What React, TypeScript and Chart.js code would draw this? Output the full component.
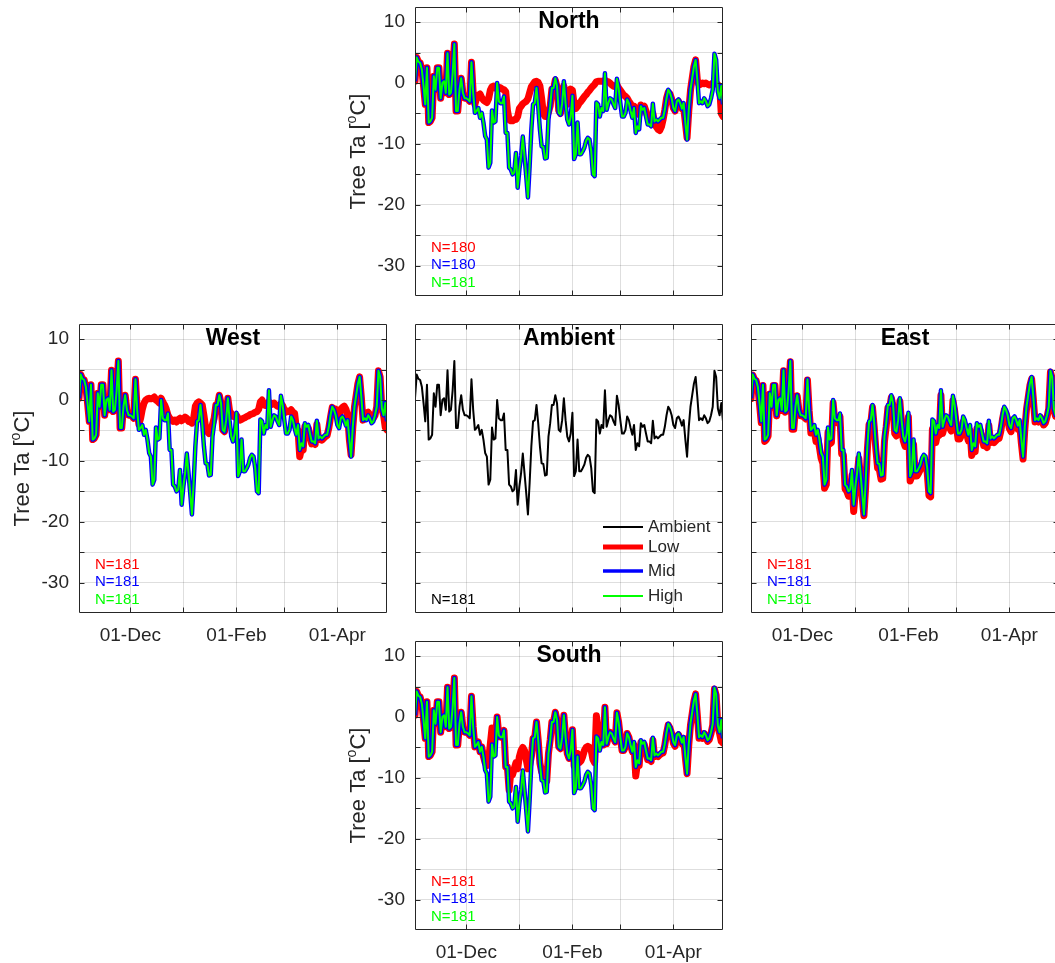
import React, { useEffect, useRef } from "react";
import { Chart, registerables } from "chart.js";

Chart.register(...registerables);

// Daily air temperature inside the tree canopies, 01-Nov to 30-Apr (day 0 = 01-Nov)
const dayIndex: number[] = Array.from({ length: 181 }, (_, i) => i);

const monthStarts = [30, 61, 92, 120, 151];
const monthLabels = ["01-Dec", "", "01-Feb", "", "01-Apr"];
const yTickValues = [-30, -25, -20, -15, -10, -5, 0, 5, 10];

const ambient = [
  0.3, 4.2, 3.5, 3.3, 2.2, -0.5, -3.5, 2.5, -6.5, -6.3,
  -5.7, 1.1, -1.1, 2.5, 2.5, -2.5, 0, 0.3, -1.6, 4.9,
  -1.9, -1.6, 1.6, 6.4, -4.6, -4.6, -1.1, 0.8, -1.6, -2.5,
  -2.5, -2.7, -3, 3.4, -1.6, -4.9, -4.6, -4.1, -5.7, -4.9,
  -6.5, -8.7, -9.3, -13.9, -13.1, -4.5, -6.5, -6.3, 0, -3,
  -3.3, -3.3, -2.2, -8.2, -8.2, -13.9, -14.2, -15, -14.7, -11.5,
  -17.2, -14.2, -12, -8.8, -12, -15.3, -18.8, -13.6, -7.6, -3.5,
  -3.3, -0.8, -3.8, -7.6, -10.4, -10.5, -12.4, -12.3, -6, -3.8,
  -0.8, -0.8, 0.8, -0.5, -4.9, -5.2, -3.3, 0.3, -3.3, -6,
  -6.8, -5.5, -2.1, -12.5, -11.7, -6.5, -11.7, -11.7, -11.2, -10.6,
  -9.5, -9.0, -9.3, -11.2, -15, -15.3, -3.2, -3.5, -5.5, -4.1,
  -4.6, 1.6, -4.4, -3.3, -2.5, -2.7, -3.5, -4.1, 0.7, -0.8,
  -3.3, -5.5, -5.5, -4.9, -2.7, -3.3, -4.6, -5.7, -4.1, -8.2,
  -7.1, -7.6, -3.8, -4.4, -4.1, -5.5, -6.8, -6.8, -7.1, -3.4,
  -6.3, -6.0, -6.3, -6.0, -5.7, -5.7, -4.4, -2.5, -1.1, -1.6,
  -2.5, -4.1, -4.6, -3, -2.7, -3.3, -4.2, -3.3, -6.5, -9.3,
  -4.4, -1.1, 0.8, 2.7, 3.8, 0.5, -3.3, -3, -3.3, -2.5,
  -3, -3.8, -3.5, -2.5, -1.1, 4.8, 3.8, -1.4, -2.5, -0.5,
  -3.5,
];

// Mid and high canopy sensors read the same as the ambient record
const midCanopy = ambient;
const highCanopy = ambient;

const northLow = [
  0.3, 4.2, 3.5, 3.3, 2.2, -0.5, -3.5, 2.5, -6.5, -6.3,
  -5.7, 1.1, -1.1, 2.5, 2.5, -2.5, 0, 0.3, -1.6, 4.9,
  -1.9, -1.6, 1.6, 6.4, -4.6, -4.6, -1.1, 0.8, -1.6, -2.5,
  -2.5, -2.7, -3, 3.4, -1.6, -3.5,
  -2.5, -2.0, -1.8, -2.4, -2.8, -3.0, -3.2, -2.6,
  -1.2, -0.6, -0.5, -0.8, -1.0, -0.7, -0.8, -1.0, -1.1, -1.4,
  -4.5, -6.0, -6.2, -6.2, -6.0, -6.0, -5.5,
  -4.2, -3.8, -3.4, -3.2, -3.0, -2.6, -1.6,
  -0.6, -0.2, 0.2, 0.3, 0.1, -0.5, -2.5,
  -5.0, -5.5, -5.5, -4.8,
  -3.8, -1.0, -1.0, 0.5, -0.6, -4.5, -5.0, -3.3, -0.5, -2.0, -3.5, -2.5, -1.0, -1.2,
  -3.5, -4.2, -3.8, -3.3, -3.0, -2.6, -2.2, -1.9, -1.5, -1.2, -0.8, -0.5, -0.2,
  0.2, 0.3, 0.3, 0.3, 0.3, 0.5, 0.3, 0.2, 0.0, -0.3, -0.5, -0.6, -0.3,
  -0.8, -1.2, -1.6, -2.0, -2.2, -2.5, -3.0, -3.4, -4.2, -3.8,
  -5.0, -5.0, -5.2, -3.6, -4.0, -3.8, -4.6, -5.5, -5.8, -6.2,
  -5.0, -6.5, -7.2, -7.6, -7.8, -7.2, -6.0, -4.4, -2.5, -1.5,
  -1.8, -2.6, -4.1, -4.6, -3.2, -3.0, -3.5, -4.2, -4.0, -6.5,
  -9.0, -4.6, -1.2, 0.8, 2.7, 3.8, 0.5, -0.3, -0.2, 0.0,
  -0.1, 0.0, -0.2, -0.3, -0.2, 0.0, 0.2, 0.0, -0.3, -0.5,
  -5.0, -5.5,
];

const westLow = [
  0.3, 4.2, 3.5, 3.3, 2.2, -0.5, -3.5, 2.5, -6.5, -6.3,
  -5.7, 1.1, -1.1, 2.5, 2.5, -2.5, 0, 0.3, -1.6, 4.9,
  -1.9, -1.6, 1.6, 6.4, -4.6, -4.6, -1.1, 0.8, -1.6, -2.5,
  -2.5, -2.7, -3, 3.4, -1.6, -4.0,
  -3.0, -1.5, -0.5, 0.0, 0.2, 0.3, 0.2, 0.3, 0.5, 0.0, -0.2, -0.5, 0.3, -0.3, -0.8, -1.5, -2.5,
  -3.0, -3.2, -3.5, -3.3, -3.6, -3.2, -3.0, -3.4, -3.2, -2.8, -3.0, -3.5, -3.6, -3.8,
  -3.0, -1.0, -0.5, -0.3, -0.5, -0.8, -2.5, -4.5, -5.2, -5.5, -5.0, -4.0, -3.0,
  -0.8, -0.8, 0.8, -0.5, -4.9, -5.2, -3.3, 0.3, -1.8, -2.2, -2.6, -2.8, -2.5,
  -3.0, -3.3, -3.2, -3.0, -2.9, -2.7, -2.6, -2.4, -2.3, -2.2, -2.0, -1.9, -1.5, -0.3,
  0.0, -0.8, -0.9, -0.7, -0.3, -0.8, -0.6, -0.5, -0.8, -1.0, -1.1, -0.6, -0.9, -1.6,
  -2.0, -1.8, -1.9, -1.6, -2.0, -2.2, -4.6, -5.0, -9.3, -8.0, -8.2, -4.4, -5.0, -4.6,
  -6.0, -7.2, -7.0, -7.3, -4.0, -6.5, -6.5, -6.6, -6.3, -6.0, -5.8, -4.6, -2.8, -1.2, -1.8,
  -1.5, -2.5, -2.6, -1.5, -1.2, -1.0, -1.5, -2.5, -6.5, -9.0, -4.6, -1.1, 0.8, 2.7, 3.8,
  0.5, -3.3, -2.4, -2.2, -2.0, -2.4, -3.0, -3.0, -2.5, -1.1, 4.8, 3.8, -1.4, -2.5, -4.5,
  -4.9,
];

const eastLow = [
  0.2, 4.1, 3.4, 3.2, 2.1, -0.7, -3.7, 2.4, -6.8, -6.5,
  -5.9, 1.0, -1.2, 2.4, 2.4, -2.6, -0.1, 0.2, -1.7, 4.8,
  -2.0, -1.7, 1.5, 6.3, -4.8, -4.8, -1.2, 0.7, -1.7, -2.6,
  -2.6, -2.8, -3.1, 3.3, -1.8, -5.4, -5.3, -5.0, -6.8, -6.2,
  -7.8, -9.6, -10.4, -14.5, -13.9, -5.3, -7.2, -7.0, -0.5, -3.5,
  -3.7, -3.8, -2.7, -8.9, -9.0, -14.6, -15.0, -15.8, -15.6, -12.4,
  -18.3, -15.0, -12.8, -9.6, -12.8, -16.0, -19.0, -14.3, -8.2, -4.0,
  -3.8, -1.2, -4.4, -8.2, -11.2, -11.4, -13.0, -12.9, -6.8, -4.4,
  -1.3, -1.3, 0.4, -1.0, -5.5, -5.9, -3.9, -0.2, -3.9, -6.7,
  -7.6, -6.3, -2.8, -13.3, -12.5, -7.3, -12.5, -12.5, -12.0, -11.4,
  -10.3, -9.8, -10.1, -12.0, -15.7, -15.9, -4.8, -5.3, -7.0, -5.6,
  -5.8, 0.8, -5.5, -4.3, -3.4, -3.6, -4.5, -5.1, -0.1, -1.7,
  -4.2, -6.4, -6.4, -5.8, -3.6, -4.2, -5.5, -6.7, -5.0, -9.1,
  -8.0, -8.5, -4.7, -5.3, -5.0, -6.3, -7.5, -7.5, -7.8, -4.2,
  -7.0, -6.7, -7.0, -6.7, -6.4, -6.3, -5.1, -3.1, -1.7, -2.2,
  -3.1, -4.7, -5.2, -3.6, -3.3, -3.9, -4.8, -3.9, -7.1, -9.7,
  -4.9, -1.5, 0.4, 2.4, 3.5, 0.2, -3.6, -3.3, -3.6, -2.8,
  -3.3, -4.1, -3.8, -2.8, -1.4, 4.6, 3.6, -1.6, -2.7, -0.8,
  -3.7,
];

const southLow = [
  0.3, 4.2, 3.5, 3.3, 2.2, -0.5, -3.5, 2.5, -6.5, -6.3,
  -5.7, 1.1, -1.1, 2.5, 2.5, -2.5, 0, 0.3, -1.6, 4.9,
  -1.9, -1.6, 1.6, 6.4, -4.6, -4.6, -1.1, 0.8, -1.6, -2.5,
  -2.5, -2.7, -3, 3.4, -1.6, -4.9, -4.6, -4.1, -5.7, -4.9,
  -6.5,
  -7.5, -8.0, -7.0, -4.5, -1.8, -2.5, -3.5,
  0, -3, -3.3, -3.3, -2.2, -8.2, -8.2, -12.0,
  -9.0, -9.5, -8.5, -7.5, -8.5, -6.5, -5.5, -5.0, -5.5, -7.0, -8.5, -8.0, -6.5,
  -3.5, -3.3, -0.8, -3.8, -7.6, -9.0, -9.0, -10.5, -10.5, -6, -3.8, -0.8,
  -0.8, 0.8, -0.5, -4.9, -5.2, -3.3, 0.3, -3.3, -6, -6.8, -5.5, -2.1,
  -8.0, -7.5, -6.0, -7.5, -7.2, -6.5, -5.5, -5.0, -4.8, -5.0, -5.5, -7.0, -7.5,
  0.2, -2.0, -3.5, -3.0,
  -4.6, 1.6, -4.4, -3.3, -2.5, -2.7, -3.5, -4.1, 0.7, -0.8,
  -3.3, -5.5, -5.5, -4.9, -2.7, -3.3, -4.6, -5.7, -4.6, -9.7,
  -7.6, -8.0, -4.2, -4.8, -4.5, -5.8, -7.0, -7.0, -7.3, -3.8,
  -6.5, -6.3, -6.5, -6.2, -6.0, -5.9, -4.6, -2.7, -1.3, -1.8,
  -2.7, -4.3, -4.8, -3.2, -2.9, -3.5, -4.4, -3.5, -6.7, -9.3,
  -4.6, -1.3, 0.6, 2.6, 3.8, 0.3, -3.5, -3.2, -3.5, -2.7,
  -3.2, -4.0, -3.7, -2.7, -1.3, 4.6, 3.6, -1.6, -2.7, -4.0,
  -4.3,
];

// Number of valid days per sensor (Low, Mid, High)
const northCounts = [180, 180, 181];
const westCounts = [181, 181, 181];
const eastCounts = [181, 181, 181];
const southCounts = [181, 181, 181];
const ambientCount = 181;

const FONT = "'Liberation Sans', Arial, Helvetica, sans-serif";
const AXIS_COLOR = "#262626";
const GRID_COLOR = "rgba(0,0,0,0.13)";
const LOW_COLOR = "#ff0000";
const MID_COLOR = "#0000ff";
const HIGH_COLOR = "#00ff00";

// Canvas geometry: plot box is 308 x 289 px
const PLOT_W = 308;
const PLOT_H = 289;
const AXIS_W = 80;
const PAD_TOP = 30;
const PAD_RIGHT = 12;
const AXIS_H = 50;
const CANVAS_W = AXIS_W + PLOT_W + PAD_RIGHT;
const CANVAS_H = PAD_TOP + PLOT_H + AXIS_H;

type PanelSpec = {
  title: string;
  left: number;
  top: number;
  showX: boolean;
  showY: boolean;
  low?: number[];
  counts?: number[];
  isAmbient?: boolean;
};

const panels: PanelSpec[] = [
  { title: "North", left: 415, top: 7, showX: false, showY: true, low: northLow, counts: northCounts },
  { title: "West", left: 79, top: 324, showX: true, showY: true, low: westLow, counts: westCounts },
  { title: "Ambient", left: 415, top: 324, showX: false, showY: false, isAmbient: true },
  { title: "East", left: 751, top: 324, showX: true, showY: false, low: eastLow, counts: eastCounts },
  { title: "South", left: 415, top: 641, showX: true, showY: true, low: southLow, counts: southCounts },
];

function decorPlugin(spec: PanelSpec) {
  return {
    id: "panelDecor",
    afterDraw(chart: any) {
      const { ctx, chartArea: a, scales } = chart;
      const xs = scales.x;
      const ys = scales.y;
      const L = Math.round(a.left) + 0.5;
      const R = Math.round(a.right) - 0.5;
      const T = Math.round(a.top) + 0.5;
      const B = Math.round(a.bottom) - 0.5;
      ctx.save();

      // axes box with inward tick marks on all four sides
      ctx.strokeStyle = AXIS_COLOR;
      ctx.lineWidth = 1;
      ctx.beginPath();
      ctx.rect(L, T, R - L, B - T);
      const tl = 5;
      for (const v of yTickValues) {
        const y = Math.round(ys.getPixelForValue(v)) + 0.5;
        ctx.moveTo(L, y);
        ctx.lineTo(L + tl, y);
        ctx.moveTo(R, y);
        ctx.lineTo(R - tl, y);
      }
      for (const d of monthStarts) {
        const x = Math.round(xs.getPixelForValue(d)) + 0.5;
        ctx.moveTo(x, B);
        ctx.lineTo(x, B - tl);
        ctx.moveTo(x, T);
        ctx.lineTo(x, T + tl);
      }
      ctx.stroke();

      // panel title
      ctx.fillStyle = "#000000";
      ctx.font = `bold 23px ${FONT}`;
      ctx.textAlign = "center";
      ctx.textBaseline = "middle";
      ctx.fillText(spec.title, (a.left + a.right) / 2, a.top + 15);

      // y-axis title with superscript degree "o"
      if (spec.showY) {
        ctx.save();
        ctx.translate(a.left - 58, (a.top + a.bottom) / 2);
        ctx.rotate(-Math.PI / 2);
        ctx.fillStyle = AXIS_COLOR;
        ctx.textAlign = "left";
        ctx.textBaseline = "alphabetic";
        const big = `22px ${FONT}`;
        const small = `14px ${FONT}`;
        ctx.font = big;
        const w1 = ctx.measureText("Tree Ta [").width;
        const w3 = ctx.measureText("C]").width;
        ctx.font = small;
        const w2 = ctx.measureText("o").width;
        let x = -(w1 + w2 + w3) / 2;
        const base = 8;
        ctx.font = big;
        ctx.fillText("Tree Ta [", x, base);
        x += w1;
        ctx.font = small;
        ctx.fillText("o", x, base - 9);
        x += w2;
        ctx.font = big;
        ctx.fillText("C]", x, base);
        ctx.restore();
      }

      // sample counts
      ctx.font = `15px ${FONT}`;
      ctx.textAlign = "left";
      ctx.textBaseline = "middle";
      if (spec.counts) {
        const colors = [LOW_COLOR, MID_COLOR, HIGH_COLOR];
        const offsets = [48.3, 30.8, 13.3];
        spec.counts.forEach((n, i) => {
          ctx.fillStyle = colors[i];
          ctx.fillText(`N=${n}`, a.left + 16, a.bottom - offsets[i]);
        });
      }
      if (spec.isAmbient) {
        ctx.fillStyle = "#000000";
        ctx.fillText(`N=${ambientCount}`, a.left + 16, a.bottom - 13.3);

        // legend
        const rows = [
          { label: "Ambient", color: "#000000", width: 2 },
          { label: "Low", color: LOW_COLOR, width: 5 },
          { label: "Mid", color: MID_COLOR, width: 3.5 },
          { label: "High", color: HIGH_COLOR, width: 2 },
        ];
        const rowY = [203, 223, 247, 272];
        ctx.font = `17px ${FONT}`;
        rows.forEach((r, i) => {
          const y = a.top + rowY[i];
          ctx.strokeStyle = r.color;
          ctx.lineWidth = r.width;
          ctx.beginPath();
          ctx.moveTo(a.left + 188, y);
          ctx.lineTo(a.left + 228, y);
          ctx.stroke();
          ctx.fillStyle = AXIS_COLOR;
          ctx.fillText(r.label, a.left + 233, y);
        });
      }
      ctx.restore();
    },
  };
}

function buildDatasets(spec: PanelSpec) {
  if (spec.isAmbient) {
    return [
      {
        label: "Ambient",
        data: ambient,
        borderColor: "#000000",
        borderWidth: 2,
        pointRadius: 0,
        tension: 0,
        borderJoinStyle: "round" as const,
      },
    ];
  }
  return [
    {
      label: "Low",
      data: spec.low as number[],
      borderColor: LOW_COLOR,
      borderWidth: 7,
      pointRadius: 0,
      tension: 0,
      order: 3,
      borderJoinStyle: "round" as const,
      borderCapStyle: "round" as const,
    },
    {
      label: "Mid",
      data: midCanopy,
      borderColor: MID_COLOR,
      borderWidth: 4.5,
      pointRadius: 0,
      tension: 0,
      order: 2,
      borderJoinStyle: "round" as const,
    },
    {
      label: "High",
      data: highCanopy,
      borderColor: HIGH_COLOR,
      borderWidth: 2,
      pointRadius: 0,
      tension: 0,
      order: 1,
      borderJoinStyle: "round" as const,
    },
  ];
}

function Panel({ spec }: { spec: PanelSpec }) {
  const ref = useRef<HTMLCanvasElement | null>(null);

  useEffect(() => {
    if (!ref.current) return;
    const chart = new Chart(ref.current, {
      type: "line",
      data: { labels: dayIndex, datasets: buildDatasets(spec) as any },
      options: {
        responsive: false,
        animation: false,
        events: [],
        layout: { padding: { top: PAD_TOP, right: PAD_RIGHT, left: 0, bottom: 0 } },
        plugins: {
          legend: { display: false },
          title: { display: false },
          tooltip: { enabled: false },
        },
        scales: {
          x: {
            type: "linear",
            min: 0,
            max: 180,
            afterBuildTicks: (s: any) => {
              s.ticks = monthStarts.map((v) => ({ value: v }));
            },
            afterFit: (s: any) => {
              s.height = AXIS_H;
            },
            grid: { color: GRID_COLOR, lineWidth: 1, drawTicks: false },
            border: { display: false },
            ticks: {
              display: spec.showX,
              autoSkip: false,
              maxRotation: 0,
              padding: 11,
              color: AXIS_COLOR,
              font: { family: FONT, size: 19 },
              callback: (_v: any, i: number) => monthLabels[i] ?? "",
            },
          },
          y: {
            type: "linear",
            min: -35,
            max: 12.5,
            afterBuildTicks: (s: any) => {
              s.ticks = yTickValues.map((v) => ({ value: v }));
            },
            afterFit: (s: any) => {
              s.width = AXIS_W;
            },
            grid: { color: GRID_COLOR, lineWidth: 1, drawTicks: false },
            border: { display: false },
            ticks: {
              display: spec.showY,
              padding: 10,
              color: AXIS_COLOR,
              font: { family: FONT, size: 19 },
              callback: (v: any) => (Number(v) % 10 === 0 ? String(v) : ""),
            },
          },
        },
      },
      plugins: [decorPlugin(spec)],
    });
    return () => chart.destroy();
  }, [spec]);

  return (
    <canvas
      ref={ref}
      width={CANVAS_W}
      height={CANVAS_H}
      style={{
        position: "absolute",
        left: spec.left - AXIS_W,
        top: spec.top - PAD_TOP,
        width: CANVAS_W,
        height: CANVAS_H,
      }}
    />
  );
}

export default function App() {
  return (
    <div
      style={{
        position: "absolute",
        left: 0,
        top: 0,
        width: 1055,
        height: 963,
        overflow: "hidden",
        background: "#ffffff",
      }}
    >
      {panels.map((p) => (
        <Panel key={p.title} spec={p} />
      ))}
    </div>
  );
}
